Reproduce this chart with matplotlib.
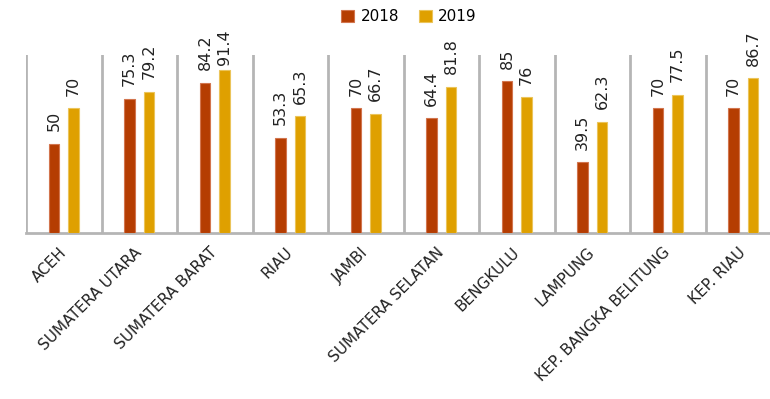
import matplotlib
matplotlib.use("Agg")
import matplotlib.pyplot as plt
import matplotlib.transforms as mtransforms
import numpy as np

categories = ["ACEH", "SUMATERA UTARA", "SUMATERA BARAT", "RIAU", "JAMBI",
              "SUMATERA SELATAN", "BENGKULU", "LAMPUNG", "KEP. BANGKA BELITUNG", "KEP. RIAU"]
values_2018 = [50, 75.3, 84.2, 53.3, 70, 64.4, 85, 39.5, 70, 70]
values_2019 = [70, 79.2, 91.4, 65.3, 66.7, 81.8, 76, 62.3, 77.5, 86.7]
labels_2018 = ["50", "75.3", "84.2", "53.3", "70", "64.4", "85", "39.5", "70", "70"]
labels_2019 = ["70", "79.2", "91.4", "65.3", "66.7", "81.8", "76", "62.3", "77.5", "86.7"]
series_names = ["2018", "2019"]

c18 = "#B53D02"
c19 = "#DFA000"
e18 = "#D2754E"
e19 = "#EBC45A"

fig = plt.figure(figsize=(7.70, 3.99), dpi=100)
W, H = 770, 399
left_px, right_px = 26, 781
base_px, top_px = 233, 54.5
ax = fig.add_axes([left_px / W, (H - base_px) / H, (right_px - left_px) / W, (base_px - top_px) / H])

x = np.arange(len(categories))
w = 0.14
off = 0.13
ax.bar(x - off, values_2018, w, color=c18, edgecolor=e18, linewidth=0.8, label=series_names[0], zorder=3)
ax.bar(x + off, values_2019, w, color=c19, edgecolor=e19, linewidth=0.8, label=series_names[1], zorder=3)

anns = []
for xs, vals, labs in [(x - off, values_2018, labels_2018), (x + off, values_2019, labels_2019)]:
    for xi, v, t in zip(xs, vals, labs):
        a = ax.annotate(t, (xi, v), xytext=(0, 9), textcoords="offset points",
                        rotation=90, ha="center", va="bottom", fontsize=11.5, color="#222222")
        anns.append(a)

ax.set_xlim(-0.5, len(categories) - 0.5)
ax.set_ylim(0, 100)
for b in np.arange(-0.5, len(categories), 1.0):
    ax.axvline(b, color="#B5B5B5", linewidth=2, zorder=1)

for s in ["top", "right", "left"]:
    ax.spines[s].set_visible(False)
ax.spines["bottom"].set_color("#B5B5B5")
ax.spines["bottom"].set_linewidth(2)
ax.set_yticks([])
ax.set_xticks(x)
ax.set_xticklabels(categories, rotation=45, ha="right", va="top",
                   rotation_mode="anchor", fontsize=11, color="#222222")
ax.tick_params(axis="x", length=0, pad=8.5)
shift = mtransforms.ScaledTranslation(-5 / 100, 0, fig.dpi_scale_trans)
for lab in ax.get_xticklabels():
    lab.set_transform(lab.get_transform() + shift)

leg = fig.legend(loc="upper center", bbox_to_anchor=(0.531, 1.012), ncol=2, frameon=False,
                 fontsize=11, handlelength=0.85, handleheight=0.85, handletextpad=0.4,
                 columnspacing=1.3)

# keep data labels inside the chart area (top limit like the original)
fig.canvas.draw()
renderer = fig.canvas.get_renderer()
top_limit = H - 29  # display coords (pixels from bottom)
for a in anns:
    bb = a.get_window_extent(renderer)
    if bb.y1 > top_limit:
        over = bb.y1 - top_limit
        a.set_position((0, 9 - over * 72 / fig.dpi))

fig.savefig("out.png", dpi=100)
